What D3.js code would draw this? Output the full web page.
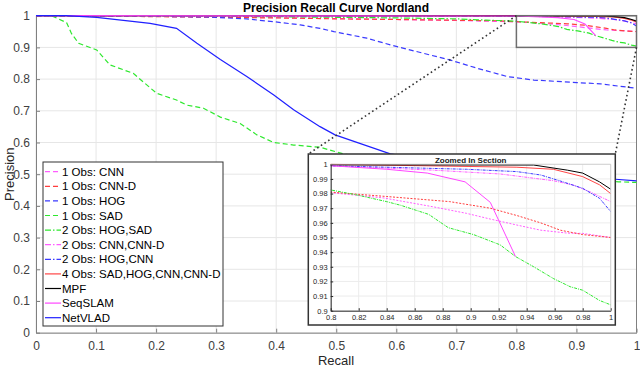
<!DOCTYPE html>
<html>
<head>
<meta charset="utf-8">
<script src="https://cdn.jsdelivr.net/npm/d3@7"></script>
<style>
  body { margin: 0; background: #fff; }
  svg { display: block; font-family: "Liberation Sans", Arial, sans-serif; }
</style>
</head>
<body>
<div id="chart"></div>
<script>
// Valeurs : [recall, precision]
const cnn1 = [[0,1],[0.1,0.999],[0.2,0.998],[0.3,0.996],[0.4,0.994],[0.5,0.991],[0.6,0.988],[0.7,0.985],[0.8,0.9806],[0.838,0.977],[0.873,0.971],[0.897,0.9665],[0.914,0.9626],[0.933,0.9585],[0.95,0.955],[0.969,0.953],[0.98,0.9528],[1,0.95]];
const cnnd1 = [[0,1],[0.1,0.999],[0.2,0.997],[0.3,0.995],[0.44,0.992],[0.5,0.99],[0.6,0.988],[0.77,0.984],[0.8,0.981],[0.84,0.978],[0.885,0.9745],[0.914,0.97],[0.933,0.965],[0.95,0.96],[0.964,0.955],[0.98,0.952],[1,0.95]];
const hog1 = [[0,1],[0.1,0.999],[0.2,0.998],[0.284,0.996],[0.35,0.99],[0.396,0.981],[0.44,0.971],[0.473,0.96],[0.496,0.95],[0.551,0.929],[0.59,0.908],[0.646,0.881],[0.69,0.86],[0.735,0.834],[0.785,0.808],[0.829,0.797],[0.901,0.789],[0.94,0.785],[1,0.771]];
const sad1 = [[0,1],[0.026,1],[0.051,0.978],[0.059,0.944],[0.071,0.913],[0.101,0.892],[0.123,0.845],[0.162,0.818],[0.201,0.755],[0.234,0.734],[0.251,0.718],[0.279,0.708],[0.307,0.68],[0.34,0.66],[0.368,0.624],[0.396,0.6],[0.429,0.592],[0.473,0.585],[0.512,0.564],[0.6,0.54],[0.7,0.52],[0.8,0.5],[0.9,0.485],[0.97,0.476],[1,0.474]];
const hogsad2 = [[0,1],[0.2,0.999],[0.4,0.997],[0.5,0.995],[0.6,0.993],[0.7,0.99],[0.75,0.986],[0.8,0.9825],[0.819,0.979],[0.84,0.9745],[0.85,0.972],[0.87,0.9658],[0.884,0.9567],[0.902,0.952],[0.921,0.945],[0.932,0.937],[0.945,0.93],[0.959,0.922],[0.971,0.9164],[0.98,0.914],[0.992,0.907],[1,0.904]];
const cnncnnd2 = [[0,1],[0.5,0.9995],[0.8,0.999],[0.873,0.996],[0.921,0.9934],[0.959,0.9888],[0.973,0.9859],[0.985,0.9813],[1,0.9745]];
const hogcnn2 = [[0,1],[0.5,0.9995],[0.8,0.999],[0.897,0.9966],[0.933,0.995],[0.95,0.9927],[0.964,0.9886],[0.98,0.9836],[0.992,0.9768],[1,0.9677]];
const all4 = [[0,1],[0.8,1],[0.933,0.998],[0.959,0.9966],[0.98,0.9916],[0.992,0.986],[1,0.98]];
const mpf = [[0,1],[0.945,0.9995],[0.969,0.996],[0.98,0.994],[0.992,0.988],[1,0.983]];
const seqslam = [[0,1],[0.5,0.9995],[0.8,0.999],[0.84,0.9966],[0.869,0.994],[0.896,0.988],[0.914,0.974],[0.932,0.937]];
const netvlad = [[0,1],[0.05,1],[0.101,0.995],[0.19,0.976],[0.234,0.96],[0.268,0.913],[0.307,0.862],[0.351,0.808],[0.396,0.75],[0.429,0.703],[0.473,0.65],[0.498,0.624],[0.59,0.564],[0.7,0.53],[0.8,0.51],[0.9,0.495],[0.965,0.484],[1,0.479]];

const labels = ["1 Obs: CNN","1 Obs: CNN-D","1 Obs: HOG","1 Obs: SAD","2 Obs: HOG,SAD","2 Obs: CNN,CNN-D","2 Obs: HOG,CNN","4 Obs: SAD,HOG,CNN,CNN-D","MPF","SeqSLAM","NetVLAD"];
const xTicks = [0,0.1,0.2,0.3,0.4,0.5,0.6,0.7,0.8,0.9,1];
const yTicks = [0,0.1,0.2,0.3,0.4,0.5,0.6,0.7,0.8,0.9,1];
const zxTicks = [0.8,0.82,0.84,0.86,0.88,0.9,0.92,0.94,0.96,0.98,1];
const zyTicks = [0.9,0.91,0.92,0.93,0.94,0.95,0.96,0.97,0.98,0.99,1];

// styles des courbes (tirets = 1 obs, tiret-point = 2 obs)
const DASH = "5,3", DASHDOT = "6,2,1.5,2";
const series = [
  { data: cnn1, color: "#ff5cff", dash: DASH },
  { data: cnnd1, color: "#ff3d3d", dash: DASH },
  { data: hog1, color: "#3a3aff", dash: DASH },
  { data: sad1, color: "#2ee82e", dash: DASH },
  { data: hogsad2, color: "#2ee82e", dash: DASHDOT },
  { data: cnncnnd2, color: "#ff5cff", dash: DASHDOT },
  { data: hogcnn2, color: "#3a3aff", dash: DASHDOT },
  { data: all4, color: "#ff4545", dash: null },
  { data: mpf, color: "#000000", dash: null },
  { data: seqslam, color: "#ff45ff", dash: null },
  { data: netvlad, color: "#2020ff", dash: null }
].map((s, i) => ({ ...s, label: labels[i] }));

const W = 640, H = 369;
const svg = d3.select("#chart").append("svg").attr("width", W).attr("height", H);

// ---- axes principaux
const x = d3.scaleLinear().domain([0, 1]).range([36, 636.5]);
const y = d3.scaleLinear().domain([0, 1]).range([332.7, 15.7]);

const grid = svg.append("g");
grid.selectAll(".gx").data(xTicks).enter().append("line")
  .attr("x1", d => x(d)).attr("x2", d => x(d)).attr("y1", y(0)).attr("y2", y(1))
  .attr("stroke", "#e6e6e6").attr("stroke-width", 1);
grid.selectAll(".gy").data(yTicks).enter().append("line")
  .attr("x1", x(0)).attr("x2", x(1)).attr("y1", d => y(d)).attr("y2", d => y(d))
  .attr("stroke", "#e6e6e6").attr("stroke-width", 1);

svg.append("g").attr("transform", `translate(0,${y(0)})`)
  .call(d3.axisBottom(x).tickValues(xTicks).tickFormat(d3.format("~g")).tickSizeInner(-4).tickSizeOuter(0).tickPadding(9))
  .call(g => g.select(".domain").attr("stroke", "#808080"))
  .call(g => g.selectAll(".tick line").attr("stroke", "#808080"))
  .call(g => g.selectAll("text").attr("fill", "#404040").style("font-size", "12px"));
svg.append("g").attr("transform", `translate(${x(0)},0)`)
  .call(d3.axisLeft(y).tickValues(yTicks).tickFormat(d3.format("~g")).tickSizeInner(-4).tickSizeOuter(0).tickPadding(6))
  .call(g => g.select(".domain").attr("stroke", "#808080"))
  .call(g => g.selectAll(".tick line").attr("stroke", "#808080"))
  .call(g => g.selectAll("text").attr("fill", "#404040").style("font-size", "12px"));
// cadre haut / droite
svg.append("path").attr("d", `M${x(0)},${y(1)}H${x(1)}V${y(0)}`)
  .attr("fill", "none").attr("stroke", "#808080");

const line = d3.line().x(d => x(d[0])).y(d => y(d[1]));
svg.append("g").selectAll("path").data(series).enter().append("path")
  .attr("d", d => line(d.data))
  .attr("fill", "none").attr("stroke", d => d.color).attr("stroke-width", 1.2)
  .attr("stroke-dasharray", d => d.dash);

svg.append("text").attr("x", 336).attr("y", 12).attr("text-anchor", "middle")
  .style("font-size", "12px").style("font-weight", "bold").attr("fill", "#000")
  .text("Precision Recall Curve Nordland");
svg.append("text").attr("x", 336).attr("y", 365).attr("text-anchor", "middle")
  .style("font-size", "13px").attr("fill", "#262626").text("Recall");
svg.append("text").attr("transform", `translate(14,${(y(0) + y(1)) / 2}) rotate(-90)`)
  .attr("text-anchor", "middle").style("font-size", "13px").attr("fill", "#262626").text("Precision");

// ---- rectangle de zoom et lignes pointillées
const ix = d3.scaleLinear().domain([0.8, 1]).range([330.7, 610.7]);
const iy = d3.scaleLinear().domain([0.9, 1]).range([310.7, 164.3]);
const box = { x0: 308.3, y0: 154, x1: 615.3, y1: 325 };

svg.append("rect").attr("x", x(0.8)).attr("y", y(1)).attr("width", x(1) - x(0.8)).attr("height", y(0.9) - y(1))
  .attr("fill", "none").attr("stroke", "#6e6e6e").attr("stroke-width", 1.5);
svg.append("line").attr("x1", x(0.8)).attr("y1", y(1)).attr("x2", box.x0).attr("y2", box.y0)
  .attr("stroke", "#333").attr("stroke-width", 1.6).attr("stroke-dasharray", "1.6,2.8");
svg.append("line").attr("x1", x(1)).attr("y1", y(0.9)).attr("x2", box.x1).attr("y2", box.y0)
  .attr("stroke", "#333").attr("stroke-width", 1.6).attr("stroke-dasharray", "1.6,2.8");

// ---- légende
const lg = svg.append("g");
lg.append("rect").attr("x", 43).attr("y", 162).attr("width", 180).attr("height", 164)
  .attr("fill", "#fff").attr("stroke", "#333").attr("stroke-width", 1);
const ent = lg.selectAll(".e").data(series).enter().append("g")
  .attr("transform", (d, i) => `translate(0,${171.7 + i * 14.6})`);
ent.append("line").attr("x1", 45).attr("x2", 61).attr("y1", 0).attr("y2", 0)
  .attr("stroke", d => d.color).attr("stroke-width", 1.2).attr("stroke-dasharray", d => d.dash);
ent.append("text").attr("x", 62).attr("y", 4).style("font-size", "11.5px").attr("fill", "#000")
  .text(d => d.label);

// ---- encart zoomé
const inset = svg.append("g");
inset.append("rect").attr("x", box.x0).attr("y", box.y0).attr("width", box.x1 - box.x0).attr("height", box.y1 - box.y0)
  .attr("fill", "#fff").attr("stroke", "#333").attr("stroke-width", 1.5);
inset.selectAll(".igx").data(zxTicks).enter().append("line")
  .attr("x1", d => ix(d)).attr("x2", d => ix(d)).attr("y1", iy(0.9)).attr("y2", iy(1))
  .attr("stroke", "#ececec");
inset.selectAll(".igy").data(zyTicks).enter().append("line")
  .attr("x1", ix(0.8)).attr("x2", ix(1)).attr("y1", d => iy(d)).attr("y2", d => iy(d))
  .attr("stroke", "#ececec");

svg.append("clipPath").attr("id", "iclip").append("rect")
  .attr("x", ix(0.8)).attr("y", iy(1) - 1).attr("width", ix(1) - ix(0.8)).attr("height", iy(0.9) - iy(1) + 1);
const iline = d3.line().x(d => ix(d[0])).y(d => iy(d[1]));
inset.append("g").attr("clip-path", "url(#iclip)").selectAll("path").data(series).enter().append("path")
  .attr("d", d => iline(d.data))
  .attr("fill", "none").attr("stroke", d => d.color).attr("stroke-width", 1)
  .attr("stroke-dasharray", d => d.dash ? (d.dash === DASH ? "2,1.5" : "3,1,1,1") : null);

inset.append("g").attr("transform", `translate(0,${iy(0.9)})`)
  .call(d3.axisBottom(ix).tickValues(zxTicks).tickFormat(d3.format("~g")).tickSizeInner(-2.5).tickSizeOuter(0).tickPadding(4))
  .call(g => g.select(".domain").attr("stroke", "#262626"))
  .call(g => g.selectAll(".tick line").attr("stroke", "#262626"))
  .call(g => g.selectAll("text").attr("fill", "#262626").style("font-size", "7.5px"));
inset.append("g").attr("transform", `translate(${ix(0.8)},0)`)
  .call(d3.axisLeft(iy).tickValues(zyTicks).tickFormat(d3.format("~g")).tickSizeInner(-2.5).tickSizeOuter(0).tickPadding(3))
  .call(g => g.select(".domain").attr("stroke", "#262626"))
  .call(g => g.selectAll(".tick line").attr("stroke", "#262626"))
  .call(g => g.selectAll("text").attr("fill", "#262626").style("font-size", "7.5px"));
inset.append("path").attr("d", `M${ix(0.8)},${iy(1)}H${ix(1)}V${iy(0.9)}`)
  .attr("fill", "none").attr("stroke", "#bdbdbd").attr("stroke-width", 0.6);
inset.append("text").attr("x", (ix(0.8) + ix(1)) / 2).attr("y", 163).attr("text-anchor", "middle")
  .style("font-size", "8px").style("font-weight", "bold").attr("fill", "#222").text("Zoomed In Section");
</script>
</body>
</html>
